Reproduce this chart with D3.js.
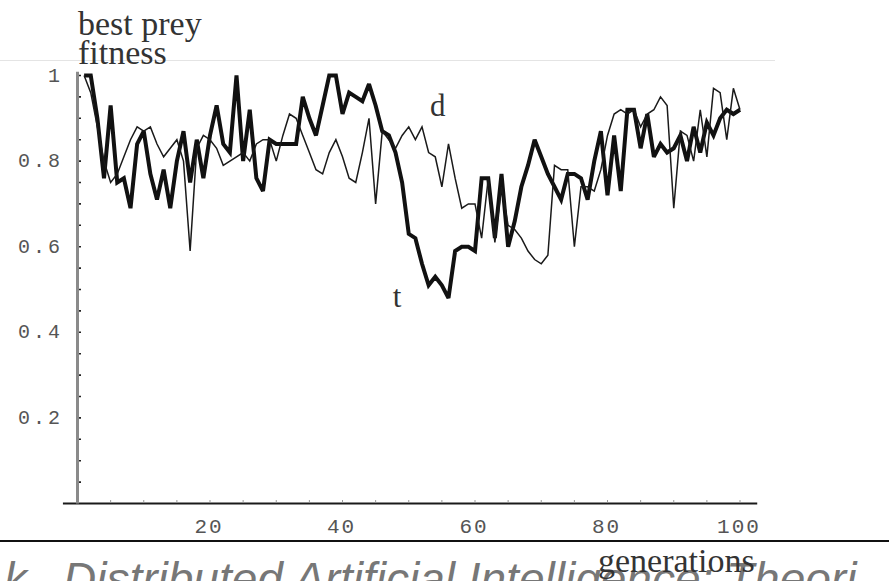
<!DOCTYPE html>
<html>
<head>
<meta charset="utf-8">
<script src="https://cdn.jsdelivr.net/npm/d3@7/dist/d3.min.js"></script>
<style>
  html, body { margin: 0; padding: 0; background: #fff; }
  svg { display: block; }
</style>
</head>
<body>
<svg id="chart" width="889" height="581"></svg>
<script>
// Best prey fitness per generation for the two runs, labelled "t" and "d"
const generations = d3.range(1, 101);
const fitnessT = [
  1.00, 1.00, 0.90, 0.76, 0.93, 0.75, 0.76, 0.69, 0.84, 0.87,
  0.77, 0.71, 0.78, 0.69, 0.80, 0.87, 0.75, 0.85, 0.76, 0.86,
  0.93, 0.84, 0.82, 1.00, 0.80, 0.92, 0.76, 0.73, 0.85, 0.84,
  0.84, 0.84, 0.84, 0.95, 0.90, 0.86, 0.93, 1.00, 1.00, 0.91,
  0.96, 0.95, 0.94, 0.98, 0.93, 0.87, 0.86, 0.82, 0.75, 0.63,
  0.62, 0.56, 0.51, 0.53, 0.51, 0.48, 0.59, 0.60, 0.60, 0.59,
  0.76, 0.76, 0.62, 0.77, 0.60, 0.66, 0.74, 0.79, 0.85, 0.81,
  0.77, 0.74, 0.71, 0.77, 0.77, 0.76, 0.71, 0.80, 0.87, 0.72,
  0.86, 0.73, 0.92, 0.92, 0.83, 0.91, 0.81, 0.84, 0.82, 0.83,
  0.86, 0.80, 0.88, 0.82, 0.89, 0.86, 0.90, 0.92, 0.91, 0.92
];
const fitnessD = [
  1.00, 0.96, 0.88, 0.80, 0.75, 0.77, 0.81, 0.85, 0.88, 0.87,
  0.88, 0.84, 0.81, 0.83, 0.85, 0.80, 0.59, 0.83, 0.86, 0.85,
  0.83, 0.79, 0.80, 0.81, 0.82, 0.80, 0.84, 0.85, 0.85, 0.80,
  0.86, 0.91, 0.90, 0.86, 0.82, 0.78, 0.77, 0.82, 0.85, 0.81,
  0.76, 0.75, 0.82, 0.90, 0.70, 0.87, 0.85, 0.83, 0.86, 0.88,
  0.85, 0.88, 0.82, 0.81, 0.74, 0.84, 0.76, 0.69, 0.70, 0.70,
  0.62, 0.76, 0.61, 0.74, 0.65, 0.64, 0.62, 0.59, 0.57, 0.56,
  0.58, 0.79, 0.78, 0.78, 0.60, 0.74, 0.74, 0.73, 0.78, 0.86,
  0.91, 0.92, 0.91, 0.92, 0.88, 0.91, 0.92, 0.95, 0.93, 0.69,
  0.87, 0.86, 0.80, 0.92, 0.81, 0.97, 0.96, 0.85, 0.97, 0.92
];
const xTickValues = [20, 40, 60, 80, 100];
const yTickValues = [0.2, 0.4, 0.6, 0.8, 1];
const yTickLabels = ["0.2", "0.4", "0.6", "0.8", "1"];

const svg = d3.select("#chart");

const x = d3.scaleLinear().domain([0, 100]).range([77.5, 740]);
const y = d3.scaleLinear().domain([0, 1]).range([503.5, 75.5]);

const serif = "'Liberation Serif', 'Times New Roman', serif";
const mono = "'Liberation Mono', 'Courier New', monospace";

// page furniture: faint rule above the plot, dark rule below it
svg.append("line")
  .attr("x1", 0).attr("x2", 775).attr("y1", 60.5).attr("y2", 60.5)
  .attr("stroke", "#e4e4e4").attr("stroke-width", 1);
svg.append("line")
  .attr("x1", 0).attr("x2", 889).attr("y1", 541).attr("y2", 541)
  .attr("stroke", "#111").attr("stroke-width", 2.2);

// running caption text under the rule, clipped by the page edge
svg.append("text")
  .attr("y", 595)
  .attr("font-family", "'Liberation Sans', Arial, sans-serif")
  .attr("font-style", "italic")
  .attr("font-size", 46)
  .attr("fill", "#777")
  .call(t => {
    t.append("tspan").attr("x", 4).text("k");
    t.append("tspan").attr("x", 63).text("Distributed Artificial Intelligence: Theori");
  });

// x axis
svg.append("line")
  .attr("x1", x(-2.2)).attr("x2", x(102.6))
  .attr("y1", y(0)).attr("y2", y(0))
  .attr("stroke", "#1a1a1a").attr("stroke-width", 2);
svg.append("g")
  .selectAll("line")
  .data(d3.range(5, 101, 5))
  .join("line")
  .attr("x1", d => x(d)).attr("x2", d => x(d))
  .attr("y1", y(0) - 1).attr("y2", y(0) - 3.5)
  .attr("stroke", "#999").attr("stroke-width", 1);
svg.append("g")
  .selectAll("text")
  .data(xTickValues)
  .join("text")
  .attr("x", d => x(d) - 1)
  .attr("y", 533)
  .attr("text-anchor", "middle")
  .attr("font-family", mono)
  .attr("font-size", 21)
  .attr("letter-spacing", 2)
  .attr("fill", "#555")
  .text(d => d);

// y axis
svg.append("line")
  .attr("x1", x(0)).attr("x2", x(0))
  .attr("y1", y(0)).attr("y2", y(1.009))
  .attr("stroke", "#8a8a8a").attr("stroke-width", 3);
svg.append("g")
  .selectAll("line")
  .data(d3.range(1, 21).map(i => i * 0.05))
  .join("line")
  .attr("x1", x(0) + 1.5).attr("x2", x(0) + 3.5)
  .attr("y1", d => y(d)).attr("y2", d => y(d))
  .attr("stroke", "#222").attr("stroke-width", 1.6);
svg.append("g")
  .selectAll("text")
  .data(yTickValues)
  .join("text")
  .attr("x", 63)
  .attr("y", d => y(d) + 6)
  .attr("text-anchor", "end")
  .attr("font-family", mono)
  .attr("font-size", 20)
  .attr("letter-spacing", 3)
  .attr("fill", "#555")
  .text((d, i) => yTickLabels[i]);

// axis titles
svg.append("text")
  .attr("font-family", serif).attr("font-size", 34).attr("fill", "#333")
  .call(t => {
    t.append("tspan").attr("x", 78).attr("y", 35).text("best prey");
    t.append("tspan").attr("x", 78).attr("y", 64).text("fitness");
  });
svg.append("text")
  .attr("x", 598).attr("y", 572)
  .attr("font-family", serif).attr("font-size", 34).attr("fill", "#333")
  .text("generations");

// the two fitness curves
const line = d3.line()
  .x((d, i) => x(generations[i]))
  .y(d => y(d));

svg.append("path")
  .datum(fitnessT)
  .attr("d", line)
  .attr("fill", "none")
  .attr("stroke", "#111")
  .attr("stroke-width", 4)
  .attr("stroke-linejoin", "miter")
  .attr("stroke-miterlimit", 3);

svg.append("path")
  .datum(fitnessD)
  .attr("d", line)
  .attr("fill", "none")
  .attr("stroke", "#1a1a1a")
  .attr("stroke-width", 1.5)
  .attr("stroke-linejoin", "miter")
  .attr("stroke-miterlimit", 3);

// curve labels
svg.append("text")
  .attr("x", x(53.2)).attr("y", y(0.905))
  .attr("font-family", serif).attr("font-size", 31).attr("fill", "#333")
  .text("d");
svg.append("text")
  .attr("x", x(47.6)).attr("y", y(0.46))
  .attr("font-family", serif).attr("font-size", 31).attr("fill", "#333")
  .text("t");
</script>
</body>
</html>
